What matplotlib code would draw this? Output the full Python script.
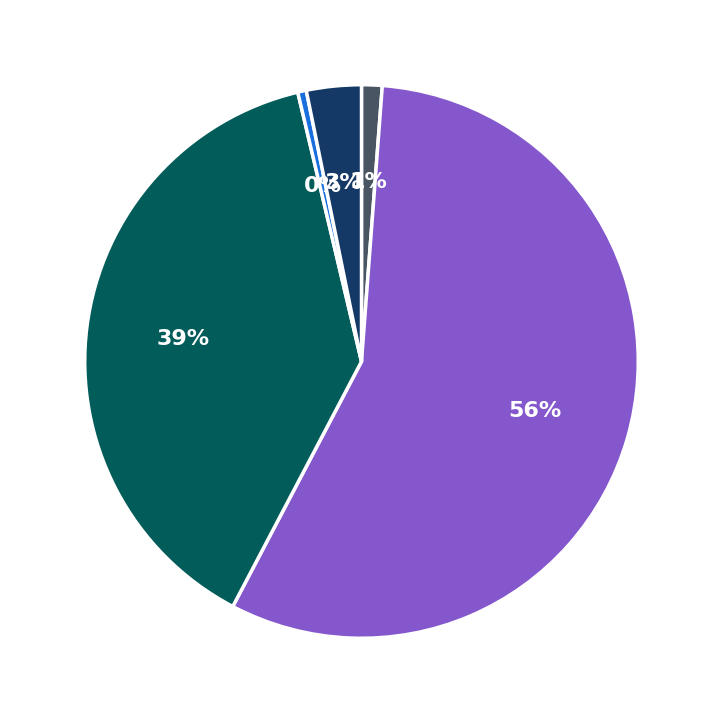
import matplotlib.pyplot as plt

labels = ['A', 'B', 'C', 'D', 'E']
values = [1.2, 56.5, 38.6, 0.5, 3.2]
colors = ['#4a5563', '#8557cc', '#025c5a', '#1a6fdf', '#143966']

fig = plt.figure(figsize=(7.23, 7.23), dpi=100)
ax = fig.add_axes([0.0215, 0.0215, 0.957, 0.957])
ax.pie(values, colors=colors, startangle=90, counterclock=False,
       autopct='%1.0f%%', pctdistance=0.65,
       wedgeprops={'edgecolor': 'white', 'linewidth': 2.5},
       textprops={'color': 'white', 'fontsize': 16, 'fontweight': 'bold'})
ax.set_aspect('equal')
fig.savefig('out.png')
